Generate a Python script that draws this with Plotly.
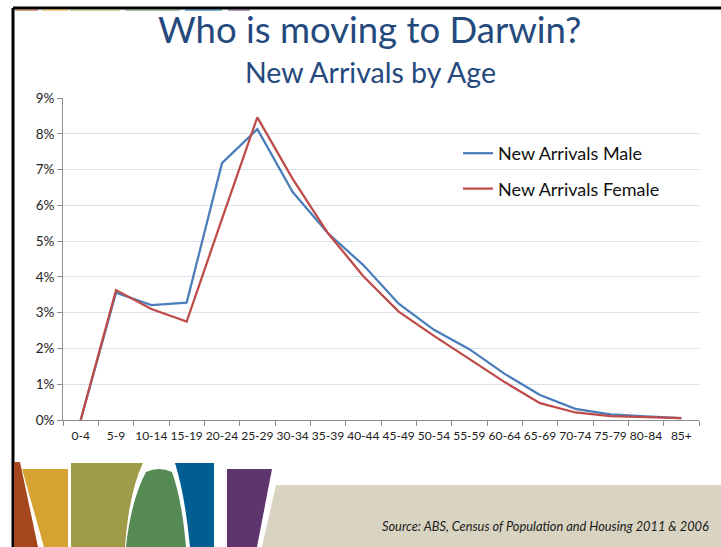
import plotly.graph_objects as go

# Age groups and share of new arrivals (%)
age_groups = ["0-4", "5-9", "10-14", "15-19", "20-24", "25-29", "30-34", "35-39",
              "40-44", "45-49", "50-54", "55-59", "60-64", "65-69", "70-74",
              "75-79", "80-84", "85+"]
male = [0.0, 3.56, 3.21, 3.28, 7.18, 8.13, 6.37, 5.22, 4.33, 3.25, 2.52, 1.98,
        1.29, 0.70, 0.31, 0.16, 0.10, 0.05]
female = [0.0, 3.63, 3.10, 2.75, 5.62, 8.46, 6.74, 5.22, 4.02, 3.03, 2.35, 1.70,
          1.06, 0.47, 0.21, 0.11, 0.09, 0.05]
y_ticks = [0, 1, 2, 3, 4, 5, 6, 7, 8, 9]
y_tick_labels = ["0%", "1%", "2%", "3%", "4%", "5%", "6%", "7%", "8%", "9%"]

W, H = 721, 547
L, R, T, B = 63, 22, 98, 127
PW, PH = W - L - R, H - T - B

FONT = "Lato"
TITLE_BLUE = "#24497C"


def X(px):
    return (px - L) / PW


def Y(py):
    return (H - B - py) / PH


def path(points):
    """Build an SVG path in paper coordinates from pixel commands."""
    out = []
    for cmd, *pts in points:
        coords = " ".join(f"{X(a):.5f},{Y(b):.5f}" for a, b in pts)
        out.append(f"{cmd} {coords}" if coords else cmd)
    return " ".join(out)


fig = go.Figure()
fig.add_trace(go.Scatter(
    x=age_groups, y=male, mode="lines", name="New Arrivals Male",
    line=dict(color="#4A7EBB", width=2.25), legendgroup="m",
))
fig.add_trace(go.Scatter(
    x=age_groups, y=female, mode="lines", name="New Arrivals Female",
    line=dict(color="#BE4B48", width=2.25), legendgroup="f",
))

shapes = []
# slide frame
shapes.append(dict(type="line", xref="paper", yref="paper",
                   x0=X(13), x1=X(721), y0=Y(8), y1=Y(8),
                   line=dict(color="black", width=3)))
shapes.append(dict(type="line", xref="paper", yref="paper",
                   x0=X(13), x1=X(13), y0=Y(8), y1=Y(547),
                   line=dict(color="black", width=3)))

# thin coloured strip under the top frame line
strip = [(15, 38, "#A5461E"), (42, 68, "#D6A232"), (70, 120, "#9F9B48"),
         (125, 180, "#568A54"), (185, 222, "#005F90"), (228, 250, "#5F3570")]
for a, b, c in strip:
    shapes.append(dict(type="line", xref="paper", yref="paper",
                       x0=X(a), x1=X(b), y0=Y(10), y1=Y(10),
                       line=dict(color=c, width=1)))

# decorative footer banners
banners = [
    ("#A5461E", [("M", (14, 462)), ("L", (20, 462)), ("L", (38, 547)), ("L", (14, 547)), ("Z",)]),
    ("#D6A232", [("M", (22, 469)), ("L", (68, 469)), ("L", (68, 547)), ("L", (44, 547)), ("Z",)]),
    ("#9F9B48", [("M", (71, 463)), ("L", (143, 463)), ("Q", (129, 492), (125, 547)),
                 ("L", (71, 547)), ("Z",)]),
    ("#568A54", [("M", (146, 472)), ("Q", (159, 466), (172, 472)), ("Q", (182, 500), (186, 547)),
                 ("L", (126, 547)), ("Q", (131, 500), (146, 472)), ("Z",)]),
    ("#005F90", [("M", (175, 463)), ("L", (214, 463)), ("L", (214, 547)), ("L", (190, 547)),
                 ("Q", (185, 495), (175, 463)), ("Z",)]),
    ("#5F3570", [("M", (227, 469)), ("L", (272, 469)), ("L", (257, 547)), ("L", (227, 547)), ("Z",)]),
    ("#D9D4C2", [("M", (276, 485)), ("L", (721, 485)), ("L", (721, 547)), ("L", (262, 547)), ("Z",)]),
]
for color, pts in banners:
    shapes.append(dict(type="path", xref="paper", yref="paper", path=path(pts),
                       fillcolor=color, line=dict(width=0)))

annotations = [
    dict(text="Who is moving to Darwin?", xref="paper", yref="paper",
         x=X(369), y=Y(29), xanchor="center", yanchor="middle", showarrow=False,
         font=dict(family=FONT, size=36.5, color=TITLE_BLUE)),
    dict(text="New Arrivals by Age", xref="paper", yref="paper",
         x=X(370), y=Y(72), xanchor="center", yanchor="middle", showarrow=False,
         font=dict(family=FONT, size=28.5, color=TITLE_BLUE)),
    dict(text="<i>Source: ABS, Census of Population and Housing 2011 &amp; 2006</i>",
         xref="paper", yref="paper", x=X(380), y=Y(526), xanchor="left", yanchor="middle",
         showarrow=False, font=dict(family=FONT, size=12.8, color="#1a1a1a")),
]

fig.update_layout(
    width=W, height=H,
    margin=dict(l=L, r=R, t=T, b=B),
    paper_bgcolor="white", plot_bgcolor="white",
    font=dict(family=FONT, color="#222222"),
    showlegend=True,
    legend=dict(x=X(458), y=Y(135), xanchor="left", yanchor="top",
                bgcolor="rgba(0,0,0,0)", font=dict(family=FONT, size=18, color="#111111"),
                traceorder="grouped", tracegroupgap=9, itemwidth=30),
    shapes=shapes,
    annotations=annotations,
    xaxis=dict(
        type="category", categoryorder="array", categoryarray=age_groups,
        showgrid=False, showline=True, linecolor="#8C8C8C", linewidth=1,
        ticks="outside", tickson="boundaries", ticklen=5, tickcolor="#8C8C8C",
        tickangle=0, ticklabelstandoff=5,
        tickfont=dict(family=FONT, size=12, color="#222222"),
        range=[-0.5, len(age_groups) - 0.5], fixedrange=True,
    ),
    yaxis=dict(
        range=[0, 9], tickmode="array", tickvals=y_ticks, ticktext=y_tick_labels,
        showgrid=True, gridcolor="#D9E1EC", gridwidth=1,
        showline=True, linecolor="#8C8C8C", linewidth=1,
        ticks="outside", ticklen=5, tickcolor="#8C8C8C",
        tickfont=dict(family=FONT, size=13.5, color="#222222"),
        zeroline=False, fixedrange=True,
    ),
)

fig.write_html("out.html")
